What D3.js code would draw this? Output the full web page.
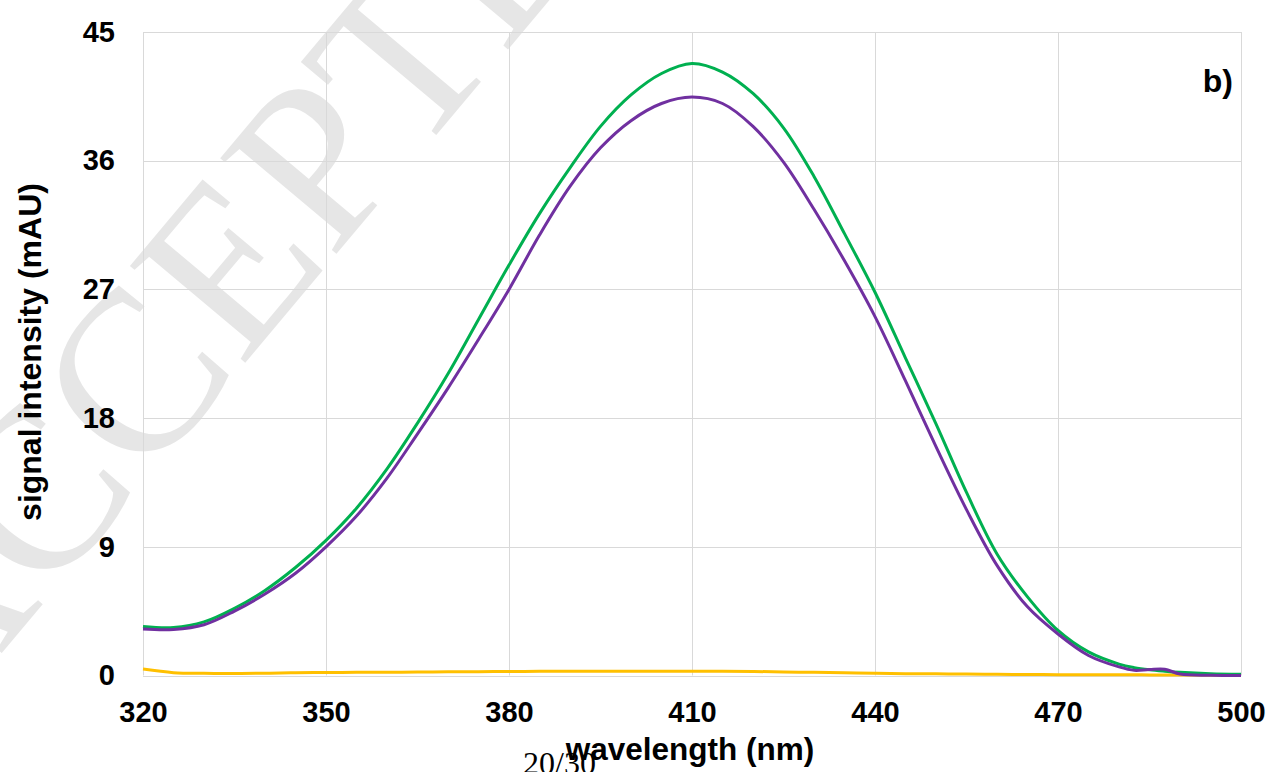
<!DOCTYPE html>
<html>
<head>
<meta charset="utf-8">
<script src="https://cdn.jsdelivr.net/npm/d3@7"></script>
<style>
  body { margin: 0; background: #fff; }
  svg { display: block; }
</style>
</head>
<body>
<svg id="chart" width="1272" height="772"></svg>
<script>
// Absorbance spectra, panel b)
const wavelength = [320, 325, 330, 335, 340, 345, 350, 355, 360, 365, 370, 375, 380, 385, 390, 395, 400, 405, 410,
  415, 420, 425, 430, 435, 440, 445, 450, 455, 460, 465, 470, 475, 480, 482.5, 485, 487.5, 490, 495, 500];
const greenValues = [3.43, 3.36, 3.75, 4.7, 5.95, 7.55, 9.45, 11.7, 14.45, 17.65, 21.1, 24.9, 28.7, 32.3, 35.5, 38.4, 40.6, 42.1, 42.8,
  42.2, 40.7, 38.3, 34.9, 30.9, 26.8, 22.2, 17.6, 12.8, 8.5, 5.5, 3.15, 1.65, 0.8, 0.55, 0.4, 0.3, 0.22, 0.12, 0.08];
const purpleValues = [3.25, 3.22, 3.55, 4.5, 5.7, 7.15, 9.0, 11.15, 13.8, 16.9, 20.1, 23.5, 27.0, 30.8, 34.2, 36.9, 38.8, 40.0, 40.45,
  40.0, 38.4, 35.9, 32.6, 29.0, 25.1, 20.6, 16.0, 11.6, 7.7, 4.8, 2.9, 1.4, 0.6, 0.36, 0.42, 0.44, 0.1, 0.02, 0.0];
const yellowValues = [0.45, 0.2, 0.15, 0.14, 0.16, 0.19, 0.21, 0.22, 0.23, 0.24, 0.26, 0.27, 0.28, 0.29, 0.3, 0.3, 0.3, 0.3, 0.3,
  0.29, 0.28, 0.25, 0.22, 0.19, 0.15, 0.13, 0.12, 0.1, 0.08, 0.07, 0.06, 0.05, 0.05, 0.05, 0.04, 0.04, 0.04, 0.03, 0.03];
const xTicks = [320, 350, 380, 410, 440, 470, 500];
const yTicks = [0, 9, 18, 27, 36, 45];

const width = 1272, height = 772;
const margin = { top: 32, right: 31, bottom: 96.5, left: 143 };

const svg = d3.select("#chart");

// faint watermark behind everything
svg.append("text")
  .attr("transform", "translate(-63,730) rotate(-50)")
  .attr("font-family", "'Liberation Serif', 'Times New Roman', serif")
  .attr("font-size", 230)
  .attr("fill", "#e6e6e6")
  .text("ACCEPTED MANUSCRIPT");

const x = d3.scaleLinear()
  .domain([320, 500])
  .range([margin.left, width - margin.right]);

const y = d3.scaleLinear()
  .domain([0, 45])
  .range([height - margin.bottom, margin.top]);

// gridlines
const grid = svg.append("g").attr("stroke", "#d9d9d9").attr("stroke-width", 1);
grid.selectAll("line.h")
  .data(yTicks)
  .join("line")
  .attr("class", "h")
  .attr("x1", margin.left).attr("x2", width - margin.right)
  .attr("y1", d => Math.round(y(d)) + 0.5).attr("y2", d => Math.round(y(d)) + 0.5);
grid.selectAll("line.v")
  .data(xTicks)
  .join("line")
  .attr("class", "v")
  .attr("y1", margin.top).attr("y2", height - margin.bottom)
  .attr("x1", d => Math.round(x(d)) + 0.5).attr("x2", d => Math.round(x(d)) + 0.5);

// axes (labels only, lines are the gridlines)
const font = "'Liberation Sans', Arial, sans-serif";

const xAxis = svg.append("g")
  .attr("transform", `translate(0,${height - margin.bottom})`)
  .call(d3.axisBottom(x).tickValues(xTicks).tickSize(0).tickPadding(26).tickFormat(d3.format("d")));
xAxis.select(".domain").remove();
xAxis.selectAll("text")
  .attr("font-family", font).attr("font-size", 29).attr("font-weight", "bold").attr("fill", "#000");

const yAxis = svg.append("g")
  .attr("transform", `translate(${margin.left},0)`)
  .call(d3.axisLeft(y).tickValues(yTicks).tickSize(0).tickPadding(28));
yAxis.select(".domain").remove();
yAxis.selectAll("text")
  .attr("font-family", font).attr("font-size", 29).attr("font-weight", "bold").attr("fill", "#000");

// series
const series = [
  { name: "yellow", values: yellowValues, color: "#ffc000" },
  { name: "green", values: greenValues, color: "#00b050" },
  { name: "purple", values: purpleValues, color: "#7030a0" }
];

const line = d3.line()
  .x((d, i) => x(wavelength[i]))
  .y(d => y(d))
  .curve(d3.curveCatmullRom.alpha(0.5));

svg.append("g")
  .selectAll("path")
  .data(series)
  .join("path")
  .attr("fill", "none")
  .attr("stroke", d => d.color)
  .attr("stroke-width", 3)
  .attr("stroke-linejoin", "round")
  .attr("d", d => line(d.values));

// axis titles
svg.append("text")
  .attr("x", 690)
  .attr("y", 760)
  .attr("text-anchor", "middle")
  .attr("font-family", font).attr("font-size", 31.5).attr("font-weight", "bold")
  .text("wavelength (nm)");

svg.append("text")
  .attr("transform", `translate(41,352) rotate(-90)`)
  .attr("text-anchor", "middle")
  .attr("font-family", font).attr("font-size", 32).attr("font-weight", "bold")
  .text("signal intensity (mAU)");

// panel label
svg.append("text")
  .attr("x", 1233)
  .attr("y", 92)
  .attr("text-anchor", "end")
  .attr("font-family", font).attr("font-size", 32).attr("font-weight", "bold")
  .text("b)");

// page number
svg.append("text")
  .attr("x", 523)
  .attr("y", 774)
  .attr("font-family", "'Liberation Serif', 'Times New Roman', serif")
  .attr("font-size", 32)
  .text("20/30");
</script>
</body>
</html>
